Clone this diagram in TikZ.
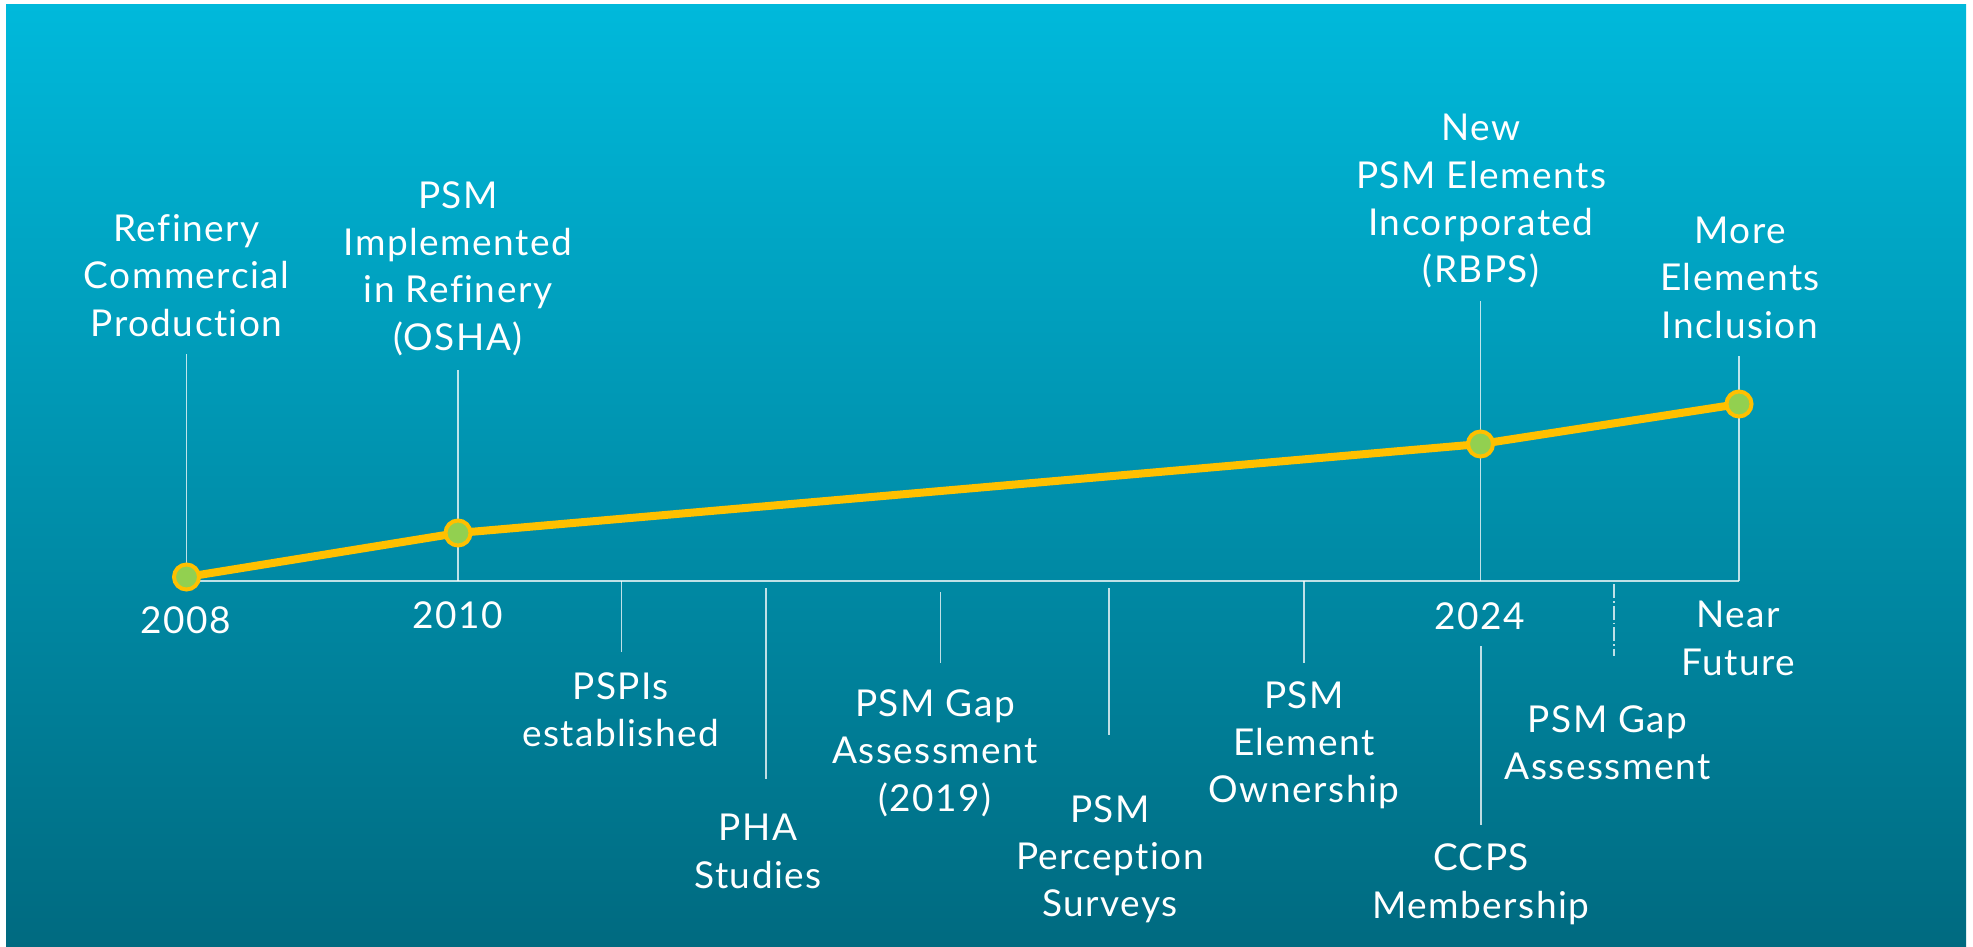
\documentclass[tikz,border=0pt]{standalone}
\usepackage{fontspec}
\setmainfont{Lato}[Ligatures={NoCommon},LetterSpace=4]
\definecolor{bgtop}{RGB}{0,185,219}
\definecolor{bgbot}{RGB}{0,106,128}
\definecolor{gold}{RGB}{255,192,0}
\definecolor{leaf}{RGB}{146,208,80}
\begin{document}
\begin{tikzpicture}[x=1pt,y=-1pt,
  lbl/.style={anchor=base,align=center,inner sep=0pt,text=white,font=\fontsize{37pt}{47.3pt}\selectfont},
  vline/.style={draw=white,draw opacity=0.75,line width=1.5pt},
  dashline/.style={vline,dash pattern=on 14pt off 3pt on 1.5pt off 3pt},
  trend/.style={draw=gold,line width=8pt,line join=round},
  dot/.style={circle,fill=leaf,draw=gold,line width=4pt,minimum size=25pt,inner sep=0pt}]
\useasboundingbox (0,0) rectangle (1973,947);
\shade[top color=bgtop,bottom color=bgbot] (6,5) rectangle (1966,947);

% points
\coordinate (p2008) at (186.5,577);
\coordinate (p2010) at (458,533);
\coordinate (p2024) at (1480.5,444);
\coordinate (pNF) at (1739,404);
\coordinate (axL) at (186.5,581);
\coordinate (axR) at (1739,581);
\coordinate (a2010) at (458,581);
\coordinate (a2024) at (1480.5,581);

% labels above (anchored at last line baseline)
\node[lbl] (lRef) at (186.5,336) {Refinery\\Commercial\\Production};
\node[lbl] (lPSM) at (458,350) {PSM\\Implemented\\in Refinery\\(OSHA)};
\node[lbl] (lNew) at (1481,282.7) {New\\PSM Elements\\Incorporated\\(RBPS)};
\node[lbl] (lMore) at (1740,338) {More\\Elements\\Inclusion};

% year labels
\node[lbl] (y2008) at (186,633) {2008};
\node[lbl] (y2010) at (458,628) {2010};
\node[lbl] (y2024) at (1480,629) {2024};
\node[lbl] (lNF) at (1738,675) {Near\\Future};

% labels below
\node[lbl] (lPSPI) at (620.7,746.7) {PSPIs\\established};
\node[lbl] (lPHA) at (758,888) {PHA\\Studies};
\node[lbl] (lGap1) at (935,811) {PSM Gap\\Assessment\\(2019)};
\node[lbl] (lPerc) at (1110,916.7) {PSM\\Perception\\Surveys};
\node[lbl] (lOwn) at (1304,802.7) {PSM\\Element\\Ownership};
\node[lbl] (lCCPS) at (1481,918) {CCPS\\Membership};
\node[lbl] (lGap2) at (1607.5,779.3) {PSM Gap\\Assessment};

% tick coordinates
\coordinate (v2008t) at (186.5,354);
\coordinate (v2010t) at (458,370);
\coordinate (v2024t) at (1480.5,301);
\coordinate (vNFt) at (1739,356);
\coordinate (tPSPIa) at (621.4,581); \coordinate (tPSPIb) at (621.4,652);
\coordinate (tPHAa) at (766,588);    \coordinate (tPHAb) at (766,779);
\coordinate (tGap1a) at (940.4,592); \coordinate (tGap1b) at (940.4,663);
\coordinate (tPerca) at (1109,588);  \coordinate (tPercb) at (1109,735);
\coordinate (tOwna) at (1304,581);   \coordinate (tOwnb) at (1304,663);
\coordinate (tCCPSa) at (1481,646);  \coordinate (tCCPSb) at (1481,825);
\coordinate (tGap2a) at (1614,584);  \coordinate (tGap2b) at (1614,656);

% axis and verticals
\draw[vline] (axL) -- (axR);
\draw[vline] (v2008t) -- (p2008);
\draw[vline] (v2010t) -- (a2010);
\draw[vline] (v2024t) -- (a2024);
\draw[vline] (vNFt) -- (axR);
\draw[vline] (tPSPIa) -- (tPSPIb);
\draw[vline] (tPHAa) -- (tPHAb);
\draw[vline] (tGap1a) -- (tGap1b);
\draw[vline] (tPerca) -- (tPercb);
\draw[vline] (tOwna) -- (tOwnb);
\draw[vline] (tCCPSa) -- (tCCPSb);
\draw[dashline] (tGap2a) -- (tGap2b);

% trend line
\draw[trend] (p2008) -- (p2010) -- (p2024) -- (pNF);

% dots
\node[dot] (d2008) at (p2008) {};
\node[dot] (d2010) at (p2010) {};
\node[dot] (d2024) at (p2024) {};
\node[dot] (dNF) at (pNF) {};
\end{tikzpicture}
\end{document}
